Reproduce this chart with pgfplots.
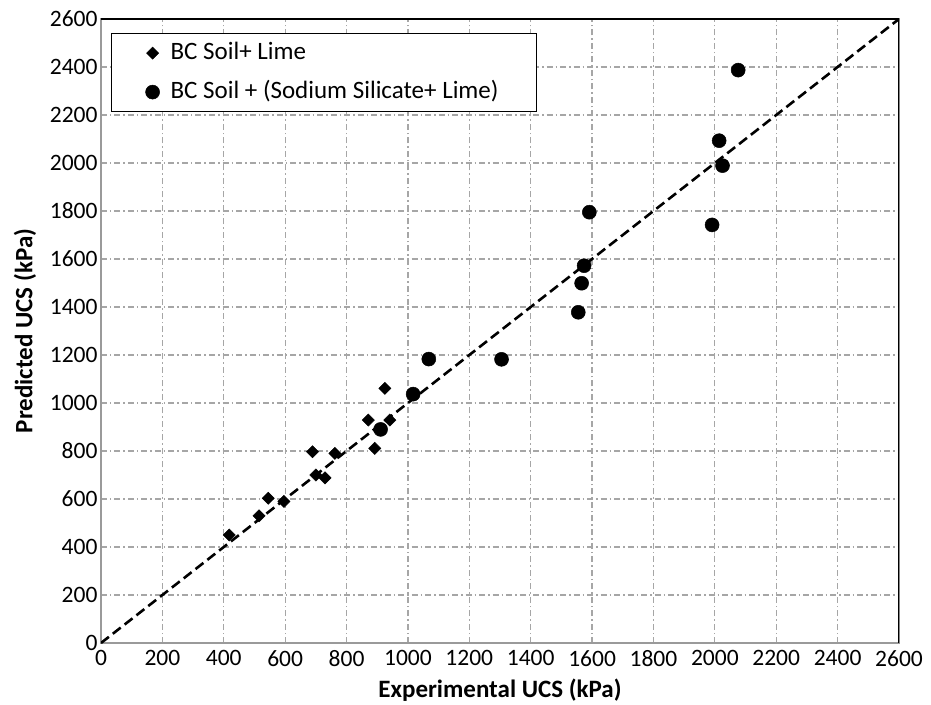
\documentclass[border=0pt]{standalone}
\usepackage{fontspec}
\setmainfont{Carlito}
\usepackage{pgfplots}
\pgfplotsset{compat=1.18}
\definecolor{gridgray}{HTML}{A6A6A6}
\definecolor{axgray}{HTML}{9A9A9A}
\begin{document}
\begin{tikzpicture}
\begin{axis}[
  width=798bp, height=624bp, scale only axis,
  xmin=0, xmax=2600, ymin=0, ymax=2600,
  xtick={0,200,...,2600}, ytick={0,200,...,2600},
  grid=major,
  major grid style={gridgray, line width=1.2bp, dash pattern=on 6bp off 3bp on 1.5bp off 3bp},
  axis line style={axgray, line width=1.5bp},
  tick style={draw=none},
  ticklabel style={font=\fontsize{23.5bp}{27bp}\selectfont},
  xticklabel style={yshift=-4bp},
  /pgf/number format/assume math mode=true,
  /pgf/number format/set thousands separator={},
  xlabel={Experimental UCS (kPa)},
  ylabel={Predicted UCS (kPa)},
  label style={font=\fontsize{25bp}{30bp}\selectfont\bfseries},
  x label style={at={(rel axis cs:0.5,0)}, anchor=center, yshift=-47bp},
  y label style={at={(rel axis cs:0,0.5)}, anchor=center, yshift=76bp},
  legend style={at={(rel axis cs:0,1)}, anchor=north west, xshift=10bp, yshift=-14bp,
    draw=black, line width=1.2bp, inner xsep=0bp, inner ysep=0bp,
    font=\fontsize{25bp}{30bp}\selectfont, row sep=0bp,
    nodes={text height=18bp, text depth=6bp, inner ysep=7.5bp},
    cells={anchor=west}},
  legend image code/.code={\path[draw=none, fill=none] (0bp,0bp) -- (57bp,0bp);
    \draw[#1, only marks] plot coordinates {(41bp,0bp)};},
]
\addplot[forget plot, black, line width=2.6bp, dash pattern=on 10bp off 5bp] coordinates {(0,0) (2600,2600)};
\addplot[only marks, mark=square*, mark size=4.3bp, mark options={rotate=45, fill=black, draw=black, line width=0.5bp}] coordinates {
(418,450) (515,530) (545,603) (596,590) (689,797) (700,700)
(730,688) (762,790) (871,929) (892,811) (925,1061) (941,929)
};
\addlegendentry{BC Soil+ Lime}
\addplot[only marks, mark=*, mark size=7bp, mark options={fill=black, draw=black, line width=0.5bp}] coordinates {
(911,890) (1017,1037) (1068,1183) (1305,1182) (1555,1378) (1566,1499)
(1574,1572) (1591,1795) (1991,1742) (2014,2093) (2025,1989) (2076,2387)
};
\addlegendentry{BC Soil + (Sodium Silicate+ Lime)\hspace*{36bp}}
\draw[black, line width=1.2bp] (rel axis cs:0,1) -- (rel axis cs:1,1) -- (rel axis cs:1,0);
\end{axis}
\pgfresetboundingbox
\path ([xshift=-101bp,yshift=-62bp]current axis.south west) rectangle ([xshift=32bp,yshift=19bp]current axis.north east);
\end{tikzpicture}
\end{document}
